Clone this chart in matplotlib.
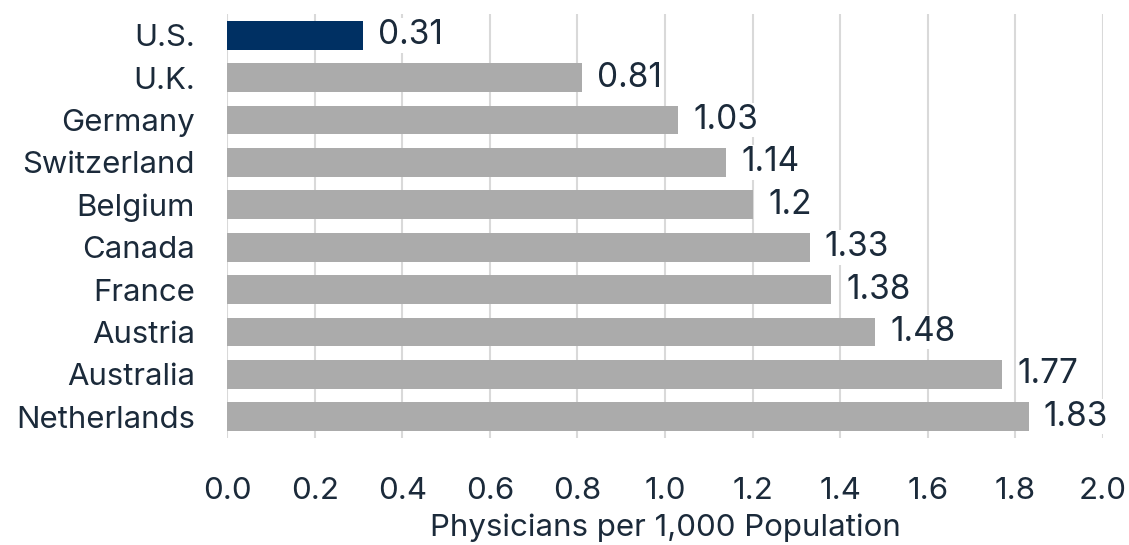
import numpy as np
import matplotlib.pyplot as plt

# 数据
countries = ['U.S.', 'U.K.', 'Germany', 'Switzerland', 'Belgium', 'Canada',
             'France', 'Austria', 'Australia', 'Netherlands']
values = [0.31, 0.81, 1.03, 1.14, 1.2, 1.33, 1.38, 1.48, 1.77, 1.83]
value_labels = ['0.31', '0.81', '1.03', '1.14', '1.2', '1.33', '1.38', '1.48', '1.77', '1.83']
xticks = [0.0, 0.2, 0.4, 0.6, 0.8, 1.0, 1.2, 1.4, 1.6, 1.8, 2.0]

plt.rcParams['font.family'] = ['Inter', 'DejaVu Sans']
text_color = '#1b2a3a'

fig = plt.figure(figsize=(11.29, 5.45), dpi=100)
ax = fig.add_axes([0.2011, 0.1963, 0.7759, 0.778])

colors = ['#003063'] + ['#ababab'] * (len(countries) - 1)
y = np.arange(len(countries))
ax.barh(y, values, height=0.68, color=colors, zorder=2)

# 数值标签
for yi, v, lab in zip(y, values, value_labels):
    ax.text(v + 0.035, yi, lab, va='center', ha='left', fontsize=24,
            color=text_color, zorder=3,
            bbox=dict(facecolor='white', edgecolor='none', pad=1))

ax.set_xlim(0, 2.0)
ax.set_ylim(len(countries) - 0.5, -0.5)
ax.set_yticks(y)
ax.set_yticklabels(countries, fontsize=22.4, color=text_color)
ax.set_xticks(xticks)
ax.set_xticklabels([f'{t:.1f}' for t in xticks], fontsize=22.5, color=text_color)
ax.tick_params(axis='both', length=0)
ax.tick_params(axis='x', pad=28)
ax.tick_params(axis='y', pad=23)

ax.grid(axis='x', color='#d9d9d9', linewidth=1.5, zorder=0)
for s in ax.spines.values():
    s.set_visible(False)

ax.set_xlabel('Physicians per 1,000 Population', fontsize=22.5, color=text_color, labelpad=6)

fig.savefig('out.png', dpi=100)
